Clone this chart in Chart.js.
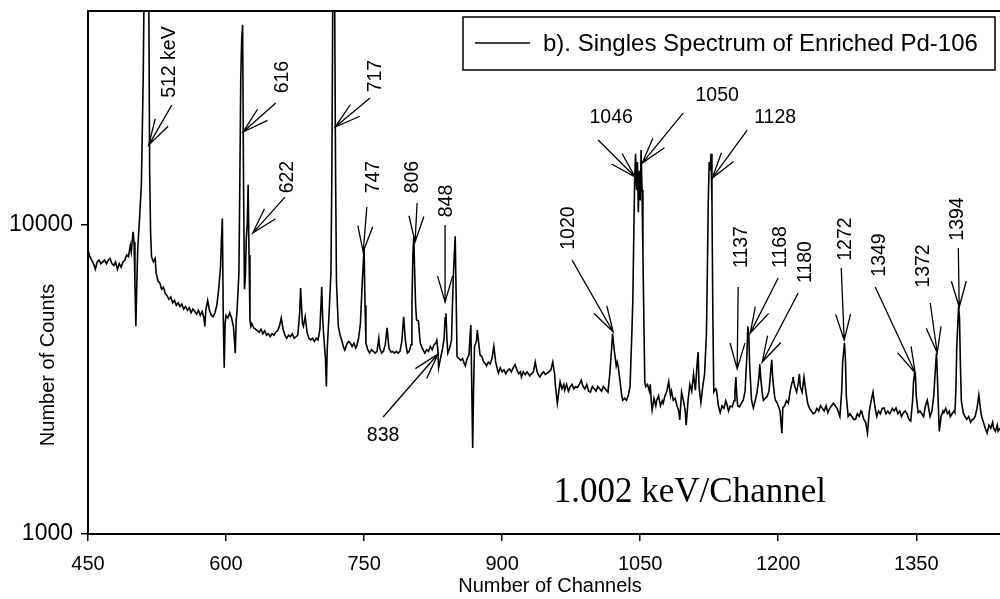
<!DOCTYPE html>
<html>
<head>
<meta charset="utf-8">
<script src="https://cdn.jsdelivr.net/npm/chart.js@4.4.1/dist/chart.umd.min.js"></script>
<style>
html,body{margin:0;padding:0;background:#fff;}
#wrap{width:1000px;height:599px;}
</style>
</head>
<body>
<div id="wrap"><canvas id="c" width="1000" height="599"></canvas></div>
<script>
// ---- data (channel, counts) ----
const channels = [
 450,452,454,456,458,460,462,464,466,468,
 470,472,474,476,478,480,482,484,486,488,
 490,492,494,496,497,499,500,501,502,503,
 504,506,508,510,511,512,514,516,517,518,
 519,521,523,524,526,528,530,532,534,536,
 538,540,542,544,546,548,550,552,554,556,
 558,560,562,564,566,568,570,572,574,576,
 577,578,580,582,584,586,588,590,592,594,
 595,596,597,598,599,600,602,604,606,608,
 609,610,611,612,614,615,616,617,618,619,
 620,621,622,623,624,625,626,627,628,630,
 632,634,636,638,640,642,644,646,648,650,
 652,654,656,658,660,662,664,666,668,670,
 672,674,676,678,680,681,683,684,686,688,
 690,692,694,696,698,700,702,704,705,706,
 708,709,710,712,714,715,716,718,719,720,
 722,724,726,728,729,731,733,735,737,739,
 741,742,744,746,748,750,751,752,754,756,
 758,760,762,764,766,767,769,771,773,775,
 777,779,781,783,785,787,789,791,793,795,
 797,799,801,802,803,804,805,806,807,809,
 811,813,815,816,818,820,822,824,826,828,
 829,830,831,833,835,837,838,839,840,841,
 843,845,846,847,848,849,850,851,853,855,
 857,859,860,862,864,865,866,867,868,869,
 870,872,873,874,876,878,880,882,883,885,
 887,889,891,893,895,896,898,900,902,904,
 906,908,910,912,914,916,918,920,921,923,
 925,927,928,930,932,934,936,938,940,941,
 943,945,947,949,951,953,955,957,958,960,
 961,963,965,967,968,970,972,974,976,978,
 980,982,984,986,988,990,992,994,996,998,
 1000,1002,1004,1006,1008,1010,1012,1014,1015,1017,
 1019,1020,1022,1024,1025,1026,1028,1030,1031,1033,
 1035,1037,1039,1041,1042,1043,1044,1045,1046,1047,
 1048,1049,1050,1051,1052,1053,1054,1055,1056,1058,
 1060,1061,1062,1063,1065,1067,1068,1070,1072,1074,
 1075,1077,1079,1081,1083,1084,1086,1088,1090,1092,
 1093,1095,1097,1099,1100,1102,1104,1106,1108,1110,
 1112,1113,1114,1116,1118,1120,1122,1123,1124,1125,
 1126,1127,1128,1129,1130,1132,1133,1135,1137,1139,
 1141,1143,1144,1146,1148,1150,1152,1153,1154,1155,
 1156,1158,1160,1162,1164,1166,1167,1168,1169,1171,
 1173,1175,1177,1179,1180,1181,1183,1184,1186,1188,
 1190,1192,1193,1194,1196,1197,1199,1200,1202,1204,
 1205,1207,1209,1211,1213,1215,1216,1218,1220,1222,
 1223,1224,1226,1228,1230,1232,1234,1236,1238,1240,
 1242,1244,1246,1248,1250,1252,1254,1256,1258,1260,
 1262,1264,1266,1267,1269,1270,1272,1273,1274,1276,
 1278,1280,1282,1284,1286,1288,1290,1291,1293,1295,
 1297,1299,1301,1303,1305,1307,1309,1311,1313,1315,
 1317,1319,1321,1322,1324,1326,1328,1330,1332,1334,
 1336,1338,1340,1342,1344,1346,1347,1348,1349,1350,
 1352,1354,1356,1358,1360,1362,1364,1365,1367,1369,
 1371,1372,1373,1374,1375,1377,1379,1380,1382,1384,
 1386,1387,1389,1391,1392,1393,1394,1396,1397,1398,
 1399,1401,1403,1405,1407,1409,1411,1412,1414,1416,
 1418,1420,1421,1423,1425,1427,1429,1431,1433,1434,
 1436,1438,1439,1441
];
const counts = [
 8300,7900,7700,7500,7200,7600,7700,7500,7600,7700,
 7500,7700,7800,7500,7400,7600,7200,7500,7300,7600,
 7700,8000,7900,8600,8200,9500,8800,6500,4700,6400,
 8300,10500,13500,30000,60000,80000,80000,60000,15000,9500,
 7900,7600,7800,7000,6600,6500,6200,6300,6000,5900,
 5750,5850,5600,5700,5500,5600,5450,5550,5350,5450,
 5300,5400,5200,5350,5250,5150,5300,5100,5250,5000,
 4700,5300,5700,5300,5100,5050,5200,5500,6200,7300,
 9000,10500,5000,3450,4800,5100,5000,5200,5000,4700,
 4300,3850,4900,5300,7000,14000,30000,40000,44500,14000,
 6200,6800,9000,10000,13500,8000,4900,4700,4800,4650,
 4600,4550,4500,4600,4450,4550,4400,4450,4350,4450,
 4400,4500,4550,4700,5000,4600,4400,4300,4400,4350,
 4450,4300,4350,4400,5200,6250,4800,4700,5050,4500,
 4300,4250,4300,4200,4300,4250,4600,6300,5000,4450,
 3700,3000,4000,5200,7000,15000,55000,55000,15000,6500,
 4700,4400,4200,4000,3940,4100,4200,4150,4050,4150,
 4000,4050,4300,4800,6500,8400,5500,4150,3950,3850,
 3950,3900,3850,3900,4300,4000,3850,3900,4100,4650,
 4000,3880,3900,3850,3900,3850,3900,4200,5050,4200,
 3850,3900,4100,5500,8000,9200,7000,5500,4930,4900,
 4150,4000,3900,3850,3950,3900,4050,3950,4100,4150,
 4240,4000,3450,3700,3940,4300,5000,5180,4300,3850,
 4000,4240,5500,6800,8000,9200,6000,3750,3700,3650,
 3700,3550,3500,3700,3800,4300,4750,3000,1900,3000,
 4050,4200,4570,4300,3800,3750,3600,3550,3500,3600,
 3550,3700,4050,3600,3400,3320,3450,3350,3400,3300,
 3380,3420,3350,3450,3540,3400,3300,3350,3220,3350,
 3280,3350,3320,3250,3300,3350,3600,3350,3250,3220,
 3300,3350,3280,3320,3350,3400,3600,3300,3000,2650,
 2800,3110,2950,3050,2920,3050,2900,3000,3050,2950,
 3000,2980,3050,3150,3000,2950,3050,2900,2880,3000,
 2950,2900,3000,2950,2900,3000,2950,2900,2880,3300,
 4000,4450,3900,3500,3600,3500,3150,2800,2710,2750,
 2710,2800,3000,4500,5700,9000,14000,17000,13000,16000,
 11000,15000,12000,17500,13000,8000,5000,3100,3000,3050,
 2900,3050,2700,2520,2750,2600,2710,2800,2600,2700,
 2650,2800,2900,3110,2800,2900,2710,2750,2600,2500,
 2340,2880,2700,2500,2250,2700,3050,2900,3300,2920,
 3600,3880,3000,2660,3000,3300,4450,7000,12000,16000,
 15000,17000,12000,5000,2880,2950,2920,2600,2470,2600,
 2550,2700,2650,2500,2600,2580,2700,2900,3220,2800,
 2600,2580,2650,2710,2900,3800,4700,4450,3500,2710,
 2560,2700,2880,3200,3540,3200,2800,2710,2750,2790,
 2900,3400,3660,3200,2800,2710,2650,2600,2500,2120,
 2560,2600,2700,2650,2900,3100,3220,3000,2880,3100,
 3300,3000,2880,3220,2900,2650,2550,2500,2450,2470,
 2550,2500,2600,2550,2500,2600,2470,2550,2600,2650,
 2600,2550,2450,2400,2900,3600,4150,3700,2800,2400,
 2450,2400,2350,2350,2450,2400,2500,2470,2350,2300,
 2120,2500,2700,2880,2600,2400,2500,2450,2550,2560,
 2450,2500,2450,2470,2550,2500,2560,2450,2500,2400,
 2470,2500,2450,2350,2320,2700,3100,3300,3300,2800,
 2470,2500,2450,2400,2600,2710,2500,2400,2500,2800,
 3500,3850,3200,2600,2150,2400,2500,2470,2550,2450,
 2500,2400,2450,2500,2470,2900,4000,5450,5000,3500,
 2700,2470,2400,2350,2400,2300,2350,2350,2400,2550,
 2820,2500,2400,2300,2200,2120,2250,2200,2300,2200,
 2150,2250,2150,2200
];
const xTicks = [450, 600, 750, 900, 1050, 1200, 1350];
const yTicks = [1000, 10000];
const seriesLabel = 'b). Singles Spectrum of Enriched Pd-106';
const noteText = '1.002 keV/Channel';
const noteAt = [1104, 1357];
// peak labels: text, label anchor, vertical?, arrow start, arrow tip (data units)
const peakLabels = [
 ['512 keV', 539, 33690, true, 541, 24450, 516, 18150],
 ['616', 661, 30130, true, 654, 24820, 618.5, 20000],
 ['622', 667, 14300, true, 664, 12320, 629, 9420],
 ['717', 762, 30350, true, 756.5, 25760, 718.5, 20760],
 ['747', 760, 14300, true, 753, 11440, 749, 8180],
 ['806', 803, 14300, true, 807.6, 11780, 805.4, 8810],
 ['848', 840, 11960, true, 838, 10000, 838, 5630],
 ['838', 770.7, 2076, false, 770.7, 2391, 830.4, 3825],
 ['1020', 972.8, 9780, true, 976, 7700, 1020.7, 4505],
 ['1046', 1018.5, 22200, false, 1004.3, 18840, 1044.6, 14300],
 ['1050', 1133.7, 26150, false, 1096.7, 23040, 1052.2, 15870],
 ['1128', 1196.7, 22200, false, 1166.3, 20290, 1128.3, 14190],
 ['1137', 1159.8, 8490, true, 1156.5, 6300, 1155.4, 3420],
 ['1168', 1202.2, 8490, true, 1200, 6737, 1169.6, 4470],
 ['1180', 1229.3, 7590, true, 1221.7, 6025, 1182.6, 3602],
 ['1272', 1272.8, 9010, true, 1268.5, 7260, 1271.7, 4243],
 ['1349', 1309.8, 8000, true, 1305.4, 6300, 1348.9, 3320],
 ['1372', 1357.6, 7370, true, 1365.2, 5593, 1372.8, 3853],
 ['1394', 1394.6, 10460, true, 1395.7, 8424, 1396.7, 5428]
];

const SANS = '"Liberation Sans", Arial, Helvetica, sans-serif';
const SERIF = '"Liberation Serif", "Times New Roman", Times, serif';

function drawArrow(ctx, x1, y1, x2, y2) {
  const a = Math.atan2(y1 - y2, x1 - x2);
  const L = 27, s = 0.28;
  ctx.beginPath();
  ctx.moveTo(x1, y1); ctx.lineTo(x2, y2);
  ctx.moveTo(x2 + L * Math.cos(a + s), y2 + L * Math.sin(a + s));
  ctx.lineTo(x2, y2);
  ctx.lineTo(x2 + L * Math.cos(a - s), y2 + L * Math.sin(a - s));
  ctx.stroke();
}

const decor = {
  id: 'decor',
  afterDraw(chart) {
    const ctx = chart.ctx, xs = chart.scales.x, ys = chart.scales.y, ca = chart.chartArea;
    ctx.save();
    // top frame line
    ctx.strokeStyle = '#000'; ctx.lineWidth = 2;
    ctx.beginPath(); ctx.moveTo(ca.left, ca.top); ctx.lineTo(ca.right, ca.top); ctx.stroke();
    // peak labels and arrows
    ctx.lineWidth = 1.3; ctx.fillStyle = '#000';
    ctx.font = '19.5px ' + SANS;
    ctx.textAlign = 'center'; ctx.textBaseline = 'middle';
    peakLabels.forEach(p => {
      const lx = xs.getPixelForValue(p[1]), ly = ys.getPixelForValue(p[2]);
      ctx.save(); ctx.translate(lx, ly); if (p[3]) ctx.rotate(-Math.PI / 2);
      ctx.fillText(p[0], 0, 0); ctx.restore();
      drawArrow(ctx, xs.getPixelForValue(p[4]), ys.getPixelForValue(p[5]),
                     xs.getPixelForValue(p[6]), ys.getPixelForValue(p[7]));
    });
    // legend box
    ctx.fillStyle = '#fff'; ctx.strokeStyle = '#000'; ctx.lineWidth = 1.5;
    ctx.fillRect(463, 17, 532, 53); ctx.strokeRect(463, 17, 532, 53);
    ctx.beginPath(); ctx.moveTo(475, 43); ctx.lineTo(530, 43); ctx.stroke();
    ctx.fillStyle = '#000'; ctx.font = '24px ' + SANS;
    ctx.textAlign = 'left'; ctx.textBaseline = 'middle';
    ctx.fillText(chart.data.datasets[0].label, 543, 44);
    // note
    ctx.font = '35px ' + SERIF; ctx.textAlign = 'center';
    ctx.fillText(noteText, xs.getPixelForValue(noteAt[0]), ys.getPixelForValue(noteAt[1]));
    // axis titles
    ctx.font = '20px ' + SANS;
    ctx.fillText('Number of Channels', 550, 586);
    ctx.save(); ctx.translate(48, 365); ctx.rotate(-Math.PI / 2);
    ctx.fillText('Number of Counts', 0, 0); ctx.restore();
    ctx.restore();
  }
};

new Chart(document.getElementById('c'), {
  type: 'line',
  data: {
    datasets: [{
      label: seriesLabel,
      data: channels.map((c, i) => ({ x: c, y: counts[i] })),
      borderColor: '#000', borderWidth: 1.6, pointRadius: 0, tension: 0, fill: false
    }]
  },
  options: {
    responsive: false, devicePixelRatio: 1, animation: false,
    parsing: false,
    layout: { padding: { top: 11, right: 0, left: 0, bottom: 0 } },
    plugins: { legend: { display: false }, tooltip: { enabled: false } },
    scales: {
      x: {
        type: 'linear', min: 450, max: 1441, position: 'bottom',
        afterFit: s => { s.height = 65; s.paddingLeft = 0; s.paddingRight = 0; },
        afterBuildTicks: s => { s.ticks = xTicks.map(v => ({ value: v })); },
        ticks: { color: '#000', font: { family: SANS, size: 20 }, padding: 11, maxRotation: 0, autoSkip: false, callback: v => String(v) },
        grid: { drawOnChartArea: false, drawTicks: true, tickLength: 7, color: '#000', lineWidth: 1.5 },
        border: { color: '#000', width: 2 }
      },
      y: {
        type: 'logarithmic', min: 1000, max: 49300, position: 'left',
        afterFit: s => { s.width = 88; s.paddingTop = 0; s.paddingBottom = 0; },
        afterBuildTicks: s => { s.ticks = yTicks.map(v => ({ value: v })); },
        ticks: { color: '#000', font: { family: SANS, size: 23 }, padding: 8, autoSkip: false, callback: v => String(v) },
        grid: { drawOnChartArea: false, drawTicks: true, tickLength: 7, color: '#000', lineWidth: 1.5 },
        border: { color: '#000', width: 2 }
      }
    }
  },
  plugins: [decor]
});
</script>
</body>
</html>
